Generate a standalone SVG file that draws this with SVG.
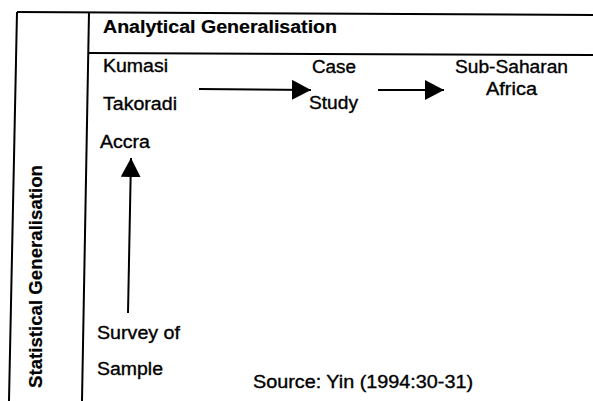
<svg xmlns="http://www.w3.org/2000/svg" width="593" height="401" viewBox="0 0 593 401">
  <style>
    .frame { stroke: #000; stroke-width: 2; fill: none; }
    .lbl { font-family: "Liberation Sans", Arial, sans-serif; font-size: 17.5px; fill: #000; stroke: #000; stroke-width: 0.35; }
    .bold { font-weight: bold; stroke-width: 0.2; }
    .conn { stroke: #000; stroke-width: 2; fill: none; marker-end: url(#head); }
  </style>
  <defs>
    <marker id="head" markerUnits="userSpaceOnUse" markerWidth="19" markerHeight="20" refX="19" refY="10" orient="auto">
      <path d="M0,0 L19,10 L0,20 Z" fill="#000"/>
    </marker>
  </defs>

  <!-- table frame -->
  <g id="frame">
    <line class="frame" x1="17" y1="12" x2="593" y2="15"/>
    <line class="frame" x1="17" y1="12" x2="9" y2="401"/>
    <line class="frame" x1="89" y1="12" x2="82" y2="401"/>
    <line class="frame" x1="89" y1="53" x2="593" y2="55"/>
  </g>

  <!-- axis headings -->
  <g id="analytical">
    <text class="lbl bold" x="103" y="33" textLength="234" lengthAdjust="spacingAndGlyphs">Analytical Generalisation</text>
  </g>
  <g id="statistical">
    <text class="lbl bold" transform="translate(42,388) rotate(-90)" x="0" y="0" textLength="223" lengthAdjust="spacingAndGlyphs">Statistical Generalisation</text>
  </g>

  <!-- nodes -->
  <g id="cities">
    <text class="lbl" x="103" y="72" textLength="65" lengthAdjust="spacingAndGlyphs">Kumasi</text>
    <text class="lbl" x="103" y="110" textLength="74" lengthAdjust="spacingAndGlyphs">Takoradi</text>
    <text class="lbl" x="100" y="148" textLength="50" lengthAdjust="spacingAndGlyphs">Accra</text>
  </g>
  <g id="case-study">
    <text class="lbl" x="312" y="73" textLength="44" lengthAdjust="spacingAndGlyphs">Case</text>
    <text class="lbl" x="309" y="109" textLength="49" lengthAdjust="spacingAndGlyphs">Study</text>
  </g>
  <g id="africa">
    <text class="lbl" x="455" y="73" textLength="113" lengthAdjust="spacingAndGlyphs">Sub-Saharan</text>
    <text class="lbl" x="486" y="95" textLength="51" lengthAdjust="spacingAndGlyphs">Africa</text>
  </g>
  <g id="survey">
    <text class="lbl" x="97" y="339" textLength="83" lengthAdjust="spacingAndGlyphs">Survey of</text>
    <text class="lbl" x="97" y="375" textLength="66" lengthAdjust="spacingAndGlyphs">Sample</text>
  </g>
  <g id="source">
    <text class="lbl" x="253" y="388" textLength="220" lengthAdjust="spacingAndGlyphs">Source: Yin (1994:30-31)</text>
  </g>

  <!-- connectors -->
  <g id="connectors">
    <line class="conn" x1="199" y1="89" x2="311" y2="90"/>
    <line class="conn" x1="378" y1="90" x2="444" y2="90"/>
    <line class="conn" x1="128" y1="313" x2="131" y2="158"/>
  </g>
</svg>
